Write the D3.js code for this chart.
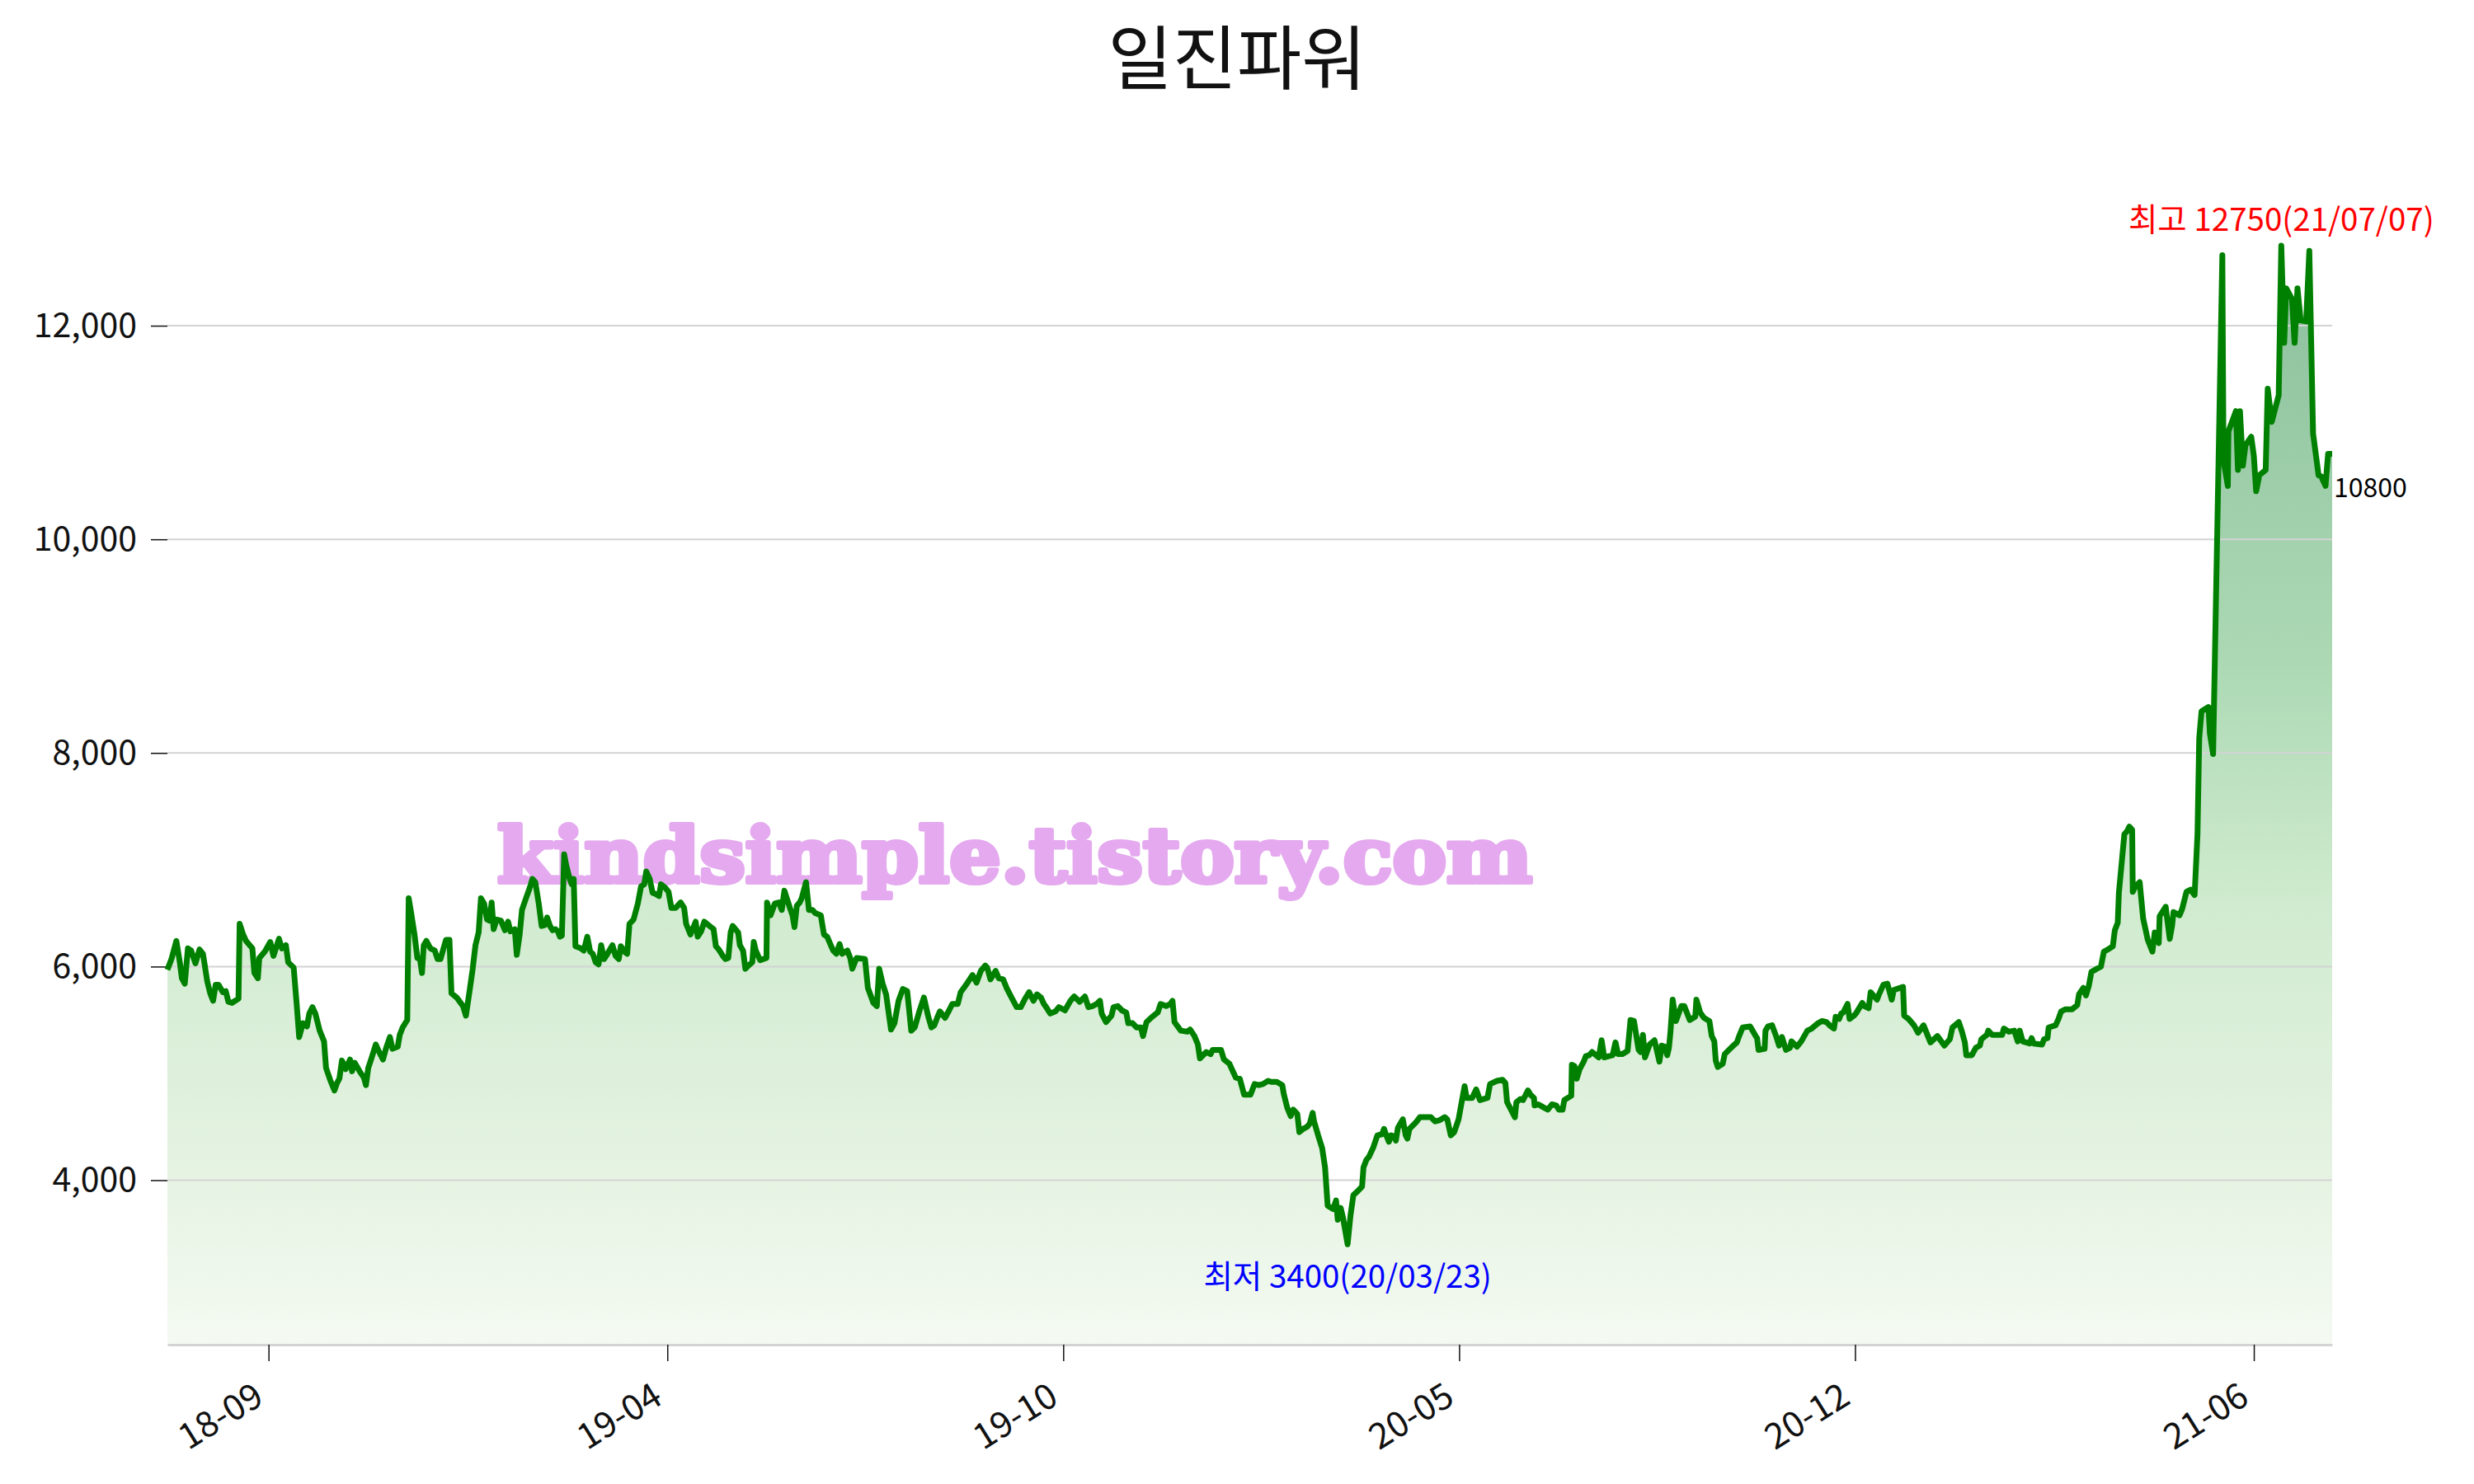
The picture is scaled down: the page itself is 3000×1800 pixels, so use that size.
<!DOCTYPE html>
<html>
<meta charset="utf-8">
<head>
<script src="https://cdnjs.cloudflare.com/ajax/libs/d3/7.8.5/d3.min.js"></script>
</head>
<style>
body {
    margin: 0;
    background: #fff;
    font-family: "Noto Sans CJK KR", "Noto Sans", sans-serif;
}
.grid line {
    stroke: #d3d3d3;
    stroke-width: 2px;
}
.axis text {
    font-family: "Noto Sans CJK KR", "Noto Sans", sans-serif;
    fill: #111;
}
.y.axis text {
    font-size: 41px;
}
.x.axis text {
    font-size: 43px;
}
.axis .tick line {
    stroke: #111;
    stroke-width: 1.5px;
}
.y.axis .domain {
    display: none;
}
.x.axis .domain {
    stroke: #d3d3d3;
    stroke-width: 3px;
}
.price {
    fill: none;
    stroke: green;
    stroke-width: 7px;
    stroke-linejoin: round;
}
</style>
<body>
<svg id="chart"></svg>
<script>
// stock name and daily closes: [trading day number, close]
const title = "일진파워";
const closes = [
[0,5970],[1.4,6070],[3.1,6240],[4.3,6040],[5.0,5890],[6.0,5840],[7.1,6170],[8.2,6150],[9.7,6030],[11.1,6160],
[12.3,6120],[13.8,5860],[14.8,5750],[15.8,5680],[16.7,5830],[17.7,5830],[19.2,5760],[20.2,5770],[21.1,5670],[22.4,5660],
[24.6,5700],[25.0,6400],[26.2,6300],[27.2,6240],[29.4,6170],[30.1,5940],[31.3,5890],[31.8,6080],[33.7,6140],[35.6,6230],
[36.7,6100],[38.6,6260],[39.6,6170],[41.0,6200],[41.8,6040],[43.7,5990],[44.7,5660],[45.6,5340],[46.9,5470],[48.3,5440],
[49.1,5560],[50.2,5620],[51.2,5560],[52.7,5400],[54.2,5300],[54.9,5050],[56.3,4940],[57.8,4840],[58.7,4910],[59.5,4950],
[60.4,5120],[61.7,5040],[63.2,5130],[63.9,5020],[64.8,5100],[66.5,5020],[68.0,4960],[68.7,4890],[69.5,5050],[70.6,5140],
[72.1,5270],[73.1,5210],[74.6,5130],[75.6,5230],[77.0,5340],[77.9,5230],[79.7,5250],[80.4,5360],[81.4,5430],[83.0,5500],
[83.5,6640],[84.3,6510],[85.5,6300],[86.5,6080],[87.4,6070],[88.1,5940],[88.7,6200],[89.6,6240],[91.0,6170],[92.5,6150],
[93.5,6070],[94.5,6070],[96.4,6250],[97.6,6250],[98.3,5750],[100.1,5710],[102.3,5630],[103.3,5540],[104.5,5760],[105.6,5970],
[106.6,6200],[107.7,6320],[108.5,6640],[109.6,6590],[110.6,6440],[111.5,6430],[112.2,6600],[112.9,6350],[113.9,6440],[115.4,6430],
[116.8,6340],[117.9,6420],[118.7,6330],[120.2,6350],[120.9,6110],[121.9,6300],[122.7,6530],[124.1,6640],[125.3,6730],[126.3,6820],
[127.3,6790],[128.5,6590],[129.5,6380],[130.7,6390],[131.4,6460],[132.4,6380],[133.3,6340],[134.3,6350],[135.1,6330],[135.8,6280],
[136.5,6290],[137.3,7050],[138.0,6950],[139.2,6820],[139.9,6770],[140.6,6820],[141.2,6190],[143.1,6170],[144.1,6150],[145.3,6280],
[146.3,6140],[147.2,6120],[148.2,6040],[149.2,6020],[150.1,6200],[151.1,6070],[152.3,6120],[154.0,6200],[155.1,6100],[156.2,6070],
[156.9,6190],[158.1,6140],[159.1,6120],[159.9,6400],[161.3,6440],[162.8,6590],[163.9,6750],[165.0,6770],[165.7,6890],[166.9,6820],
[167.9,6690],[168.9,6680],[170.1,6660],[170.8,6770],[172.2,6740],[173.4,6700],[174.4,6550],[175.9,6550],[177.6,6600],[178.8,6550],
[179.5,6400],[181.0,6300],[182.8,6420],[183.5,6280],[184.7,6330],[185.8,6420],[187.6,6380],[189.0,6350],[189.8,6190],[190.8,6160],
[192.2,6100],[193.1,6070],[194.1,6080],[194.9,6320],[195.6,6380],[197.5,6320],[198.1,6200],[199.2,6150],[200.0,5980],[201.1,6010],
[202.4,6040],[202.9,6230],[203.6,6150],[205.1,6060],[207.3,6080],[207.5,6600],[208.7,6480],[210.2,6590],[211.6,6600],[212.6,6530],
[213.5,6710],[215.4,6550],[216.3,6480],[217.0,6370],[217.8,6570],[218.8,6600],[219.5,6640],[221.0,6790],[222.0,6530],[223.2,6530],
[224.2,6500],[226.1,6480],[227.2,6300],[228.3,6280],[229.4,6210],[230.4,6150],[231.5,6120],[232.6,6210],[233.5,6120],[235.3,6150],
[236.3,6080],[237.0,5980],[238.5,6080],[241.4,6070],[242.4,5800],[244.3,5660],[245.5,5630],[246.3,5980],[247.5,5840],[248.7,5740],
[250.4,5410],[251.6,5470],[253.0,5680],[254.5,5790],[256.0,5770],[257.4,5400],[258.6,5430],[260.3,5590],[261.8,5710],[263.3,5530],
[264.4,5430],[265.4,5450],[266.5,5530],[267.3,5580],[269.1,5520],[270.5,5590],[271.6,5650],[273.5,5650],[274.5,5760],[276.4,5830],
[278.6,5920],[280.0,5850],[281.5,5960],[283.0,6010],[283.7,5990],[284.8,5880],[286.6,5960],[287.7,5890],[289.2,5880],[290.4,5800],
[292.1,5710],[293.9,5620],[295.3,5620],[296.8,5700],[298.2,5760],[299.7,5680],[300.9,5740],[302.3,5710],[303.3,5650],[304.1,5620],
[305.5,5560],[307.3,5580],[308.5,5620],[310.6,5590],[312.5,5680],[313.8,5720],[315.7,5670],[317.5,5720],[318.7,5620],[320.1,5630],
[321.6,5650],[322.7,5680],[323.3,5560],[324.8,5480],[326.7,5540],[327.4,5620],[328.9,5630],[330.3,5590],[331.8,5570],[332.5,5470],
[334.0,5470],[335.4,5430],[336.9,5430],[337.6,5350],[338.8,5480],[340.8,5530],[342.7,5570],[343.7,5650],[345.6,5630],[347.1,5650],
[347.8,5680],[348.5,5480],[350.7,5400],[352.9,5390],[353.9,5410],[355.4,5350],[356.6,5270],[357.3,5140],[359.5,5200],[361.0,5180],
[361.7,5220],[364.6,5220],[365.6,5130],[367.5,5090],[369.7,4960],[371.1,4950],[372.6,4800],[374.8,4800],[376.2,4900],[377.7,4890],
[379.1,4900],[380.9,4930],[382.0,4920],[383.9,4920],[385.8,4890],[386.3,4810],[387.5,4680],[388.7,4600],[389.6,4660],[391.0,4620],
[391.7,4450],[393.0,4480],[394.4,4500],[395.3,4530],[396.3,4630],[396.8,4550],[398.2,4420],[399.6,4300],[400.6,4120],[401.5,3760],
[403.4,3730],[404.4,3810],[405.0,3630],[406.0,3740],[406.8,3650],[408.4,3400],[409.4,3670],[410.4,3860],[412.0,3900],[413.4,3940],
[413.9,4120],[414.9,4190],[415.8,4220],[417.2,4300],[418.7,4420],[420.3,4430],[421.0,4480],[421.8,4420],[422.7,4360],[423.4,4420],
[424.4,4410],[425.1,4370],[425.8,4490],[427.5,4570],[428.5,4420],[429.1,4390],[429.8,4480],[432.0,4540],[433.4,4590],[435.8,4590],
[437.2,4590],[438.7,4550],[440.1,4560],[442.0,4590],[442.9,4570],[444.1,4420],[445.3,4450],[446.8,4570],[448.0,4750],[448.9,4880],
[449.6,4770],[451.5,4770],[452.9,4850],[454.2,4750],[456.8,4770],[457.7,4900],[460.1,4930],[462.0,4940],[463.0,4910],[463.6,4730],
[466.3,4590],[466.8,4730],[468.2,4760],[469.1,4750],[470.8,4840],[471.7,4800],[472.9,4770],[473.1,4700],[474.4,4710],[476.3,4680],
[477.7,4660],[479.1,4710],[480.6,4700],[481.5,4660],[482.8,4660],[483.4,4750],[485.8,4790],[486.0,5080],[486.9,5070],[487.7,4950],
[488.7,5040],[490.1,5110],[490.8,5160],[492.0,5170],[493.0,5200],[495.3,5150],[496.3,5310],[497.2,5150],[498.7,5160],[500.1,5170],
[501.1,5290],[502.0,5180],[503.4,5180],[505.3,5210],[506.3,5500],[507.5,5490],[509.1,5220],[509.8,5200],[510.6,5360],[511.3,5150],
[512.9,5270],[514.6,5310],[516.3,5110],[517.1,5260],[518.2,5250],[519.0,5170],[519.6,5240],[520.1,5380],[520.9,5690],[522.0,5490],
[523.9,5630],[524.9,5630],[526.8,5500],[528.7,5530],[529.1,5690],[530.4,5570],[531.7,5520],[533.6,5490],[534.4,5350],[535.3,5300],
[535.8,5120],[536.5,5060],[538.2,5090],[538.9,5180],[541.1,5240],[543.1,5290],[543.9,5350],[545.1,5430],[547.7,5440],[549.6,5350],
[550.1,5330],[550.6,5220],[552.7,5230],[553.0,5400],[553.9,5440],[555.3,5450],[556.8,5340],[557.7,5260],[558.7,5340],[560.1,5220],
[561.5,5240],[562.0,5300],[563.9,5250],[565.4,5300],[567.5,5400],[569.0,5420],[571.2,5470],[572.6,5490],[574.1,5480],[575.6,5440],
[576.7,5420],[577.3,5530],[578.5,5510],[579.2,5560],[579.9,5570],[581.4,5650],[582.1,5510],[583.6,5540],[584.3,5560],[586.5,5660],
[587.2,5630],[588.7,5610],[589.4,5760],[591.6,5690],[592.3,5740],[593.8,5830],[595.2,5840],[596.7,5690],[597.4,5780],[600.6,5810],
[601.0,5540],[602.5,5510],[604.4,5450],[605.8,5380],[607.7,5450],[610.1,5290],[612.5,5350],[614.9,5260],[616.8,5320],[617.7,5430],
[619.9,5480],[621.0,5390],[622.0,5290],[622.5,5170],[624.4,5170],[625.8,5240],[627.2,5260],[627.7,5320],[629.6,5360],[630.1,5400],
[631.5,5360],[634.9,5360],[635.5,5420],[637.2,5390],[639.1,5400],[640.3,5300],[641.0,5400],[642.0,5300],[644.4,5280],[645.1,5330],
[645.8,5280],[648.7,5270],[649.4,5320],[650.6,5330],[651.0,5430],[653.4,5450],[654.4,5510],[655.3,5580],[656.8,5600],[659.1,5600],
[660.9,5640],[661.5,5740],[663.0,5800],[663.9,5730],[664.9,5820],[665.8,5950],[667.7,5980],[669.1,6000],[670.1,6140],[671.5,6160],
[673.2,6190],[673.9,6340],[674.9,6410],[675.3,6690],[676.3,6980],[677.2,7240],[678.2,7270],[678.9,7310],[679.9,7280],[680.1,6700],
[681.0,6750],[682.5,6790],[683.7,6450],[685.3,6250],[686.9,6140],[687.7,6320],[689.1,6220],[689.4,6470],[691.5,6560],[692.0,6450],
[692.9,6260],[693.7,6380],[694.2,6510],[696.3,6480],[697.2,6540],[698.7,6700],[700.1,6720],[701.5,6670],[702.5,7240],[703.1,8140],
[703.9,8390],[706.3,8430],[706.8,8180],[707.9,7990],[709.8,10750],[711.1,12660],[711.5,10740],[713.0,10500],[713.2,11010],[715.8,11200],
[716.5,10650],[717.2,11200],[718.2,10690],[719.1,10880],[721.1,10960],[722.0,10780],[722.8,10450],[723.9,10600],[726.1,10650],[726.8,11410],
[728.2,11100],[730.6,11350],[731.5,12750],[732.5,11840],[733.2,12350],[735.2,12250],[736.1,11840],[737.1,12350],[738.2,12050],[740.1,12040],
[741.2,12700],[742.5,10990],[744.4,10600],[745.3,10590],[746.8,10500],[747.7,10800],[749.1,10800]
];
const yTicks = [4000, 6000, 8000, 10000, 12000];
const tickDays = [35, 173, 310, 447, 584, 722];
const tickLabels = ["18-09", "19-04", "19-10", "20-05", "20-12", "21-06"];
const highDate = "21/07/07";
const lowDate = "20/03/23";
const watermark = "kindsimple.tistory.com";

// axis limits
const yMin = 2460, yMax = 13660;

const W = 3000, H = 1800;
const margin = {top: 180, right: 172, bottom: 169, left: 203};

const svg = d3.select('#chart')
    .attr('width', W)
    .attr('height', H);

const x = d3.scaleLinear()
    .domain(d3.extent(closes, d => d[0]))
    .range([margin.left, W - margin.right]);
const y = d3.scaleLinear()
    .domain([yMin, yMax])
    .range([H - margin.bottom, margin.top]);

const hi = closes.reduce((a, b) => b[1] > a[1] ? b : a);
const lo = closes.reduce((a, b) => b[1] < a[1] ? b : a);
const last = closes[closes.length - 1];

// vertical gradient under the line
const grad = svg.append('defs').append('linearGradient')
    .attr('id', 'fillGrad')
    .attr('gradientUnits', 'userSpaceOnUse')
    .attr('x1', 0).attr('x2', 0)
    .attr('y1', y(hi[1])).attr('y2', y(yMin));
[[0, '#8bbf9c'], [0.38, '#acd9b4'], [0.6, '#d0ebcf'], [0.85, '#e6f3e3'], [1, '#f4faf2']]
    .forEach(s => grad.append('stop').attr('offset', s[0]).attr('stop-color', s[1]));

const area = d3.area()
    .x(d => x(d[0]))
    .y0(y(yMin))
    .y1(d => y(d[1]));
svg.append('path')
    .datum(closes)
    .attr('fill', 'url(#fillGrad)')
    .attr('d', area);

// grid
svg.append('g').classed('grid', true)
    .selectAll('line')
    .data(yTicks)
    .join('line')
    .attr('x1', x.range()[0]).attr('x2', x.range()[1])
    .attr('y1', d => y(d)).attr('y2', d => y(d));

// axes
svg.append('g')
    .classed('y axis', true)
    .attr('transform', `translate(${margin.left},0)`)
    .call(d3.axisLeft(y).tickValues(yTicks).tickSize(20).tickPadding(17).tickFormat(d3.format(',')))
    .attr('font-size', null).attr('font-family', null);

const xAxis = svg.append('g')
    .classed('x axis', true)
    .attr('transform', `translate(0,${H - margin.bottom})`)
    .call(d3.axisBottom(x).tickValues(tickDays).tickSize(20).tickSizeOuter(0)
        .tickFormat((d, i) => tickLabels[i]))
    .attr('font-size', null).attr('font-family', null);
xAxis.selectAll('.tick text')
    .attr('x', 0).attr('y', 0).attr('dy', 0)
    .attr('text-anchor', 'end')
    .attr('transform', 'translate(-4,70) rotate(-32)');

// watermark
svg.append('text')
    .text(watermark)
    .attr('x', margin.left + 400)
    .attr('y', 1070)
    .attr('textLength', 1255)
    .attr('lengthAdjust', 'spacingAndGlyphs')
    .style('font-family', '"DejaVu Serif", serif')
    .style('font-weight', 'bold')
    .style('font-size', '92px')
    .style('fill', '#e4a9ee')
    .style('stroke', '#e4a9ee')
    .style('stroke-width', '6px')
    .style('stroke-linejoin', 'round');

// price line
svg.append('path')
    .datum(closes)
    .classed('price', true)
    .attr('d', d3.line().x(d => x(d[0])).y(d => y(d[1])));

// high / low / last labels
svg.append('text')
    .text(`최고 ${hi[1]}(${highDate})`)
    .attr('x', x(hi[0]))
    .attr('y', y(hi[1]) - 18)
    .attr('text-anchor', 'middle')
    .style('font-size', '38.5px')
    .style('fill', 'red');
svg.append('text')
    .text(`최저 ${lo[1]}(${lowDate})`)
    .attr('x', x(lo[0]))
    .attr('y', y(lo[1]) + 53)
    .attr('text-anchor', 'middle')
    .style('font-size', '38.5px')
    .style('fill', 'blue');
svg.append('text')
    .text(last[1])
    .attr('x', x(last[0]) + 2)
    .attr('y', y(last[1]) + 52)
    .style('font-size', '32px')
    .style('fill', '#000');

// title
svg.append('text')
    .text(title)
    .attr('x', W / 2)
    .attr('y', 102)
    .attr('text-anchor', 'middle')
    .style('font-size', '85px')
    .style('fill', '#111');
</script>
</body>
</html>
